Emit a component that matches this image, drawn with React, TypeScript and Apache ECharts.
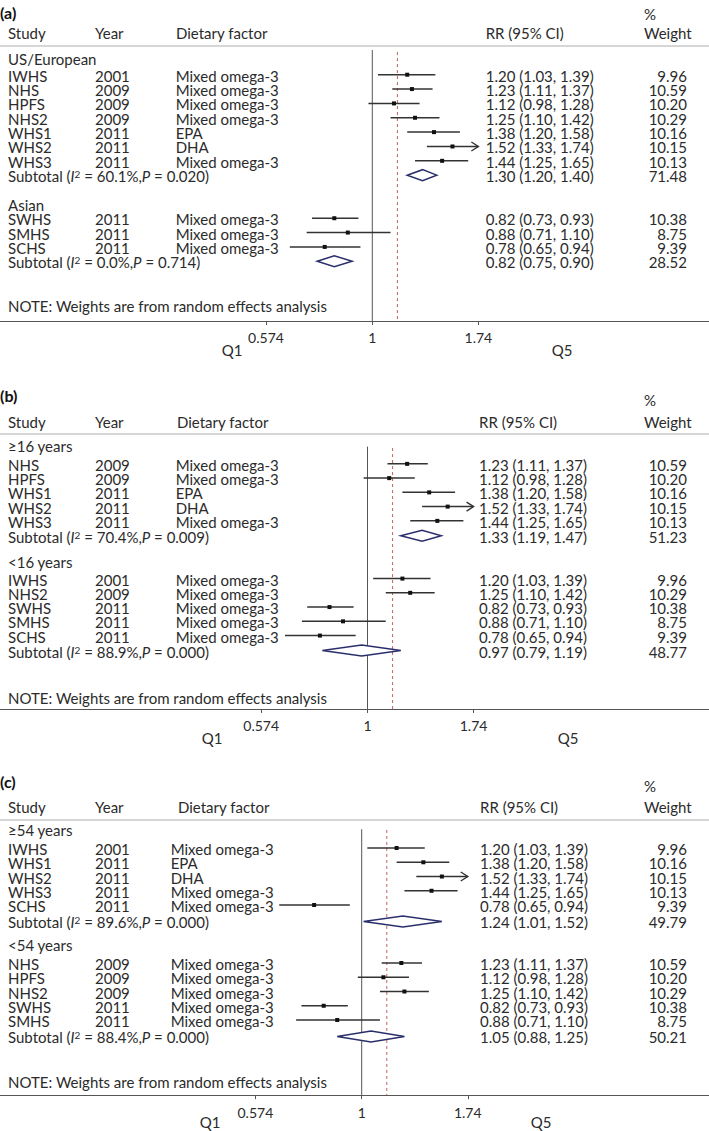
import React, { useEffect, useRef } from "react";
import * as echarts from "echarts";

// ---------------- data ----------------
const studyNames = ["IWHS", "NHS", "HPFS", "NHS2", "WHS1", "WHS2", "WHS3", "SWHS", "SMHS", "SCHS"];
const studyYears = ["2001", "2009", "2009", "2009", "2011", "2011", "2011", "2011", "2011", "2011"];
const dietaryFactors = [
  "Mixed omega-3", "Mixed omega-3", "Mixed omega-3", "Mixed omega-3", "EPA", "DHA",
  "Mixed omega-3", "Mixed omega-3", "Mixed omega-3", "Mixed omega-3",
];
const studyRR = [1.2, 1.23, 1.12, 1.25, 1.38, 1.52, 1.44, 0.82, 0.88, 0.78];
const studyLower = [1.03, 1.11, 0.98, 1.1, 1.2, 1.33, 1.25, 0.73, 0.71, 0.65];
const studyUpper = [1.39, 1.37, 1.28, 1.42, 1.58, 1.74, 1.65, 0.93, 1.1, 0.94];
const studyWeights = [9.96, 10.59, 10.2, 10.29, 10.16, 10.15, 10.13, 10.38, 8.75, 9.39];

const tickValues = [0.574, 1, 1.74];
const tickLabels = ["0.574", "1", "1.74"];
const overallRR = 1.14;

// panel (a)
const groupLabelsA = ["US/European", "Asian"];
const groupMembersA = [["IWHS", "NHS", "HPFS", "NHS2", "WHS1", "WHS2", "WHS3"], ["SWHS", "SMHS", "SCHS"]];
const subtotalRRA = [1.3, 0.82];
const subtotalLowerA = [1.2, 0.75];
const subtotalUpperA = [1.4, 0.9];
const subtotalWeightA = [71.48, 28.52];
const subtotalI2A = ["60.1", "0.0"];
const subtotalPA = ["0.020", "0.714"];

// panel (b)
const groupLabelsB = ["≥16 years", "<16 years"];
const groupMembersB = [["NHS", "HPFS", "WHS1", "WHS2", "WHS3"], ["IWHS", "NHS2", "SWHS", "SMHS", "SCHS"]];
const subtotalRRB = [1.33, 0.97];
const subtotalLowerB = [1.19, 0.79];
const subtotalUpperB = [1.47, 1.19];
const subtotalWeightB = [51.23, 48.77];
const subtotalI2B = ["70.4", "88.9"];
const subtotalPB = ["0.009", "0.000"];

// panel (c)
const groupLabelsC = ["≥54 years", "<54 years"];
const groupMembersC = [["IWHS", "WHS1", "WHS2", "WHS3", "SCHS"], ["NHS", "HPFS", "NHS2", "SWHS", "SMHS"]];
const subtotalRRC = [1.24, 1.05];
const subtotalLowerC = [1.01, 0.88];
const subtotalUpperC = [1.52, 1.25];
const subtotalWeightC = [49.79, 50.21];
const subtotalI2C = ["89.6", "88.4"];
const subtotalPC = ["0.000", "0.000"];

// ---------------- style / layout ----------------
const W = 709;
const H = 1131;
const PX_PER_LN = 191.5;
const FONT = "Lato";
const FS = 15;
const LH = 13;
const TEXT_COLOR = "#2b2b2b";
const TEXT_DY = 1;
const STUDY_X = 8;
const YEAR_X = 95;
const WEIGHT_RIGHT = 687;
const WEIGHT_HDR_X = 644;
const CAP = tickValues[tickValues.length - 1];

const panels = [
  {
    tag: "(a)", groupLabels: groupLabelsA, members: groupMembersA,
    subRR: subtotalRRA, subLo: subtotalLowerA, subHi: subtotalUpperA, subW: subtotalWeightA, subI2: subtotalI2A, subP: subtotalPA,
    L: { headY: 57.5, s: 14.35, firstGaps: [1.2, 1.0], subGap: 1.0, headGap: 2.0, noteGap: 3.08, axisGap: 4.16,
      vTop: -0.52, rTop: -0.38, xOne: 372.3, tagY: 12, pctY: 14, hdrY: 33, sepY: 46,
      factorX: 175.7, factorHdrX: 176, rrX: 485.7, q1X: 232, q5X: 562, qY: 350 },
  },
  {
    tag: "(b)", groupLabels: groupLabelsB, members: groupMembersB,
    subRR: subtotalRRB, subLo: subtotalLowerB, subHi: subtotalUpperB, subW: subtotalWeightB, subI2: subtotalI2B, subP: subtotalPB,
    L: { headY: 445.2, s: 14.25, firstGaps: [1.31, 1.2], subGap: 1.05, headGap: 1.8, noteGap: 3.25, axisGap: 4.1,
      vTop: 0.1, rTop: 0.2, xOne: 367.5, tagY: 395, pctY: 400, hdrY: 421.7, sepY: 434,
      factorX: 175.7, factorHdrX: 177, rrX: 479, q1X: 212, q5X: 568, qY: 738 },
  },
  {
    tag: "(c)", groupLabels: groupLabelsC, members: groupMembersC,
    subRR: subtotalRRC, subLo: subtotalLowerC, subHi: subtotalUpperC, subW: subtotalWeightC, subI2: subtotalI2C, subP: subtotalPC,
    L: { headY: 828.5, s: 14.25, firstGaps: [1.37, 1.32], subGap: 1.15, headGap: 1.6, noteGap: 3.12, axisGap: 4.12,
      vTop: 0.05, rTop: 0.1, xOne: 361.7, tagY: 781.7, pctY: 786, hdrY: 807.3, sepY: 820,
      factorX: 170.7, factorHdrX: 178, rrX: 480, q1X: 210, q5X: 541, qY: 1121.5 },
  },
];

const lnTicks = tickValues.map((v) => Math.log(v));
const fmt2 = (v: number) => v.toFixed(2);
const ciText = (r: number, lo: number, hi: number) => `${fmt2(r)} (${fmt2(lo)}, ${fmt2(hi)})`;

type Row = { kind: string; u: number; i?: number; g?: number; label?: string; uAxis?: number };

function buildRows(p: any) {
  const L = p.L;
  const rows: Row[] = [];
  let u = 0;
  p.groupLabels.forEach((label: string, g: number) => {
    if (g > 0) u += L.headGap;
    rows.push({ kind: "heading", u, label });
    u += L.firstGaps[g];
    p.members[g].forEach((name: string, k: number) => {
      if (k > 0) u += 1;
      rows.push({ kind: "study", u, i: studyNames.indexOf(name) });
    });
    u += L.subGap;
    rows.push({ kind: "subtotal", u, g });
  });
  rows.push({ kind: "note", u: u + L.noteGap });
  const uAxis = u + L.axisGap;
  rows.unshift({ kind: "ref", u: L.vTop, uAxis });
  return { rows, uAxis };
}

function textEl(text: string, x: number, y: number, align = "left", extra: any = {}) {
  return {
    type: "text",
    x,
    y,
    silent: true,
    style: {
      text,
      fill: TEXT_COLOR,
      fontSize: FS,
      fontFamily: FONT,
      lineHeight: LH,
      align,
      verticalAlign: "middle",
      textAlign: align,
      textVerticalAlign: "middle",
      ...extra,
    },
  };
}

function makeRenderItem(p: any, rows: Row[], uAxis: number) {
  const L = p.L;
  return (params: any, api: any) => {
    const row = rows[params.dataIndex];
    const y = api.coord([0, row.u])[1];
    const ty = y + TEXT_DY;
    const children: any[] = [];
    if (row.kind === "ref") {
      const a = api.coord([0, L.vTop]);
      const b = api.coord([0, uAxis]);
      children.push({ type: "line", shape: { x1: a[0], y1: a[1], x2: b[0], y2: b[1] }, style: { stroke: "#555", lineWidth: 1 } });
      const lo = Math.log(overallRR);
      const c = api.coord([lo, L.rTop]);
      const d = api.coord([lo, uAxis]);
      children.push({
        type: "line",
        shape: { x1: c[0], y1: c[1], x2: d[0], y2: d[1] },
        style: { stroke: "#c0605c", lineWidth: 1, lineDash: [3, 3] },
      });
    } else if (row.kind === "heading") {
      children.push(textEl(row.label as string, STUDY_X, ty));
    } else if (row.kind === "note") {
      children.push(textEl("NOTE: Weights are from random effects analysis", STUDY_X, ty));
    } else if (row.kind === "study") {
      const i = row.i as number;
      const lo = api.coord([Math.log(studyLower[i]), row.u]);
      const hiClipped = Math.min(studyUpper[i], CAP);
      const hi = api.coord([Math.log(hiClipped), row.u]);
      const pt = api.coord([Math.log(studyRR[i]), row.u]);
      children.push({ type: "line", shape: { x1: lo[0], y1: y, x2: hi[0], y2: y }, style: { stroke: "#333", lineWidth: 1.5 } });
      if (studyUpper[i] >= CAP) {
        children.push({
          type: "polyline",
          shape: { points: [[hi[0] - 7, y - 4.5], [hi[0], y], [hi[0] - 7, y + 4.5]] },
          style: { stroke: "#333", lineWidth: 1.4, fill: null },
        });
      }
      children.push({ type: "rect", shape: { x: pt[0] - 2, y: y - 2, width: 4, height: 4 }, style: { fill: "#111" } });
      children.push(textEl(studyNames[i], STUDY_X, ty));
      children.push(textEl(studyYears[i], YEAR_X, ty));
      children.push(textEl(dietaryFactors[i], L.factorX, ty));
      children.push(textEl(ciText(studyRR[i], studyLower[i], studyUpper[i]), L.rrX, ty));
      children.push(textEl(fmt2(studyWeights[i]), WEIGHT_RIGHT, ty, "right"));
    } else if (row.kind === "subtotal") {
      const g = row.g as number;
      const lo = api.coord([Math.log(p.subLo[g]), row.u]);
      const hi = api.coord([Math.log(p.subHi[g]), row.u]);
      const pt = api.coord([Math.log(p.subRR[g]), row.u]);
      const hh = 5.5;
      children.push({
        type: "polygon",
        shape: { points: [[lo[0], y], [pt[0], y - hh], [hi[0], y], [pt[0], y + hh]] },
        style: { fill: "#ffffff", stroke: "#2a2f6b", lineWidth: 1.5 },
      });
      children.push(
        textEl(`Subtotal ({it|I}{sup|2} = ${p.subI2[g]}%,{it|P} = ${p.subP[g]})`, STUDY_X, ty, "left", {
          lineHeight: 14,
          rich: {
            it: { fontStyle: "italic", fontSize: FS, fontFamily: FONT, fill: TEXT_COLOR, lineHeight: 14 },
            sup: { fontSize: 10, fontFamily: FONT, fill: TEXT_COLOR, verticalAlign: "top", lineHeight: 6 },
          },
        })
      );
      children.push(textEl(ciText(p.subRR[g], p.subLo[g], p.subHi[g]), L.rrX, ty));
      children.push(textEl(fmt2(p.subW[g]), WEIGHT_RIGHT, ty, "right"));
    }
    return { type: "group", children };
  };
}

function buildOption() {
  const grids: any[] = [];
  const xAxes: any[] = [];
  const yAxes: any[] = [];
  const series: any[] = [];
  const graphics: any[] = [];

  panels.forEach((p, k) => {
    const L = p.L;
    const { rows, uAxis } = buildRows(p);
    grids.push({ left: 0, width: W, top: L.headY + L.vTop * L.s, height: (uAxis - L.vTop) * L.s, containLabel: false });
    xAxes.push({
      gridIndex: k,
      type: "value",
      min: -L.xOne / PX_PER_LN,
      max: (W - L.xOne) / PX_PER_LN,
      axisLine: { show: true, onZero: false, lineStyle: { color: "#555", width: 1 } },
      axisTick: { show: true, customValues: lnTicks, length: 4, lineStyle: { color: "#555" } },
      axisLabel: {
        customValues: lnTicks,
        margin: 10,
        fontSize: 14,
        fontFamily: FONT,
        color: TEXT_COLOR,
        formatter: (v: number) => {
          const j = lnTicks.findIndex((t) => Math.abs(t - v) < 1e-6);
          return j >= 0 ? tickLabels[j] : "";
        },
      },
      splitLine: { show: false },
    });
    yAxes.push({ gridIndex: k, type: "value", inverse: true, min: L.vTop, max: uAxis, show: false });
    series.push({
      type: "custom",
      xAxisIndex: k,
      yAxisIndex: k,
      silent: true,
      clip: false,
      renderItem: makeRenderItem(p, rows, uAxis),
      data: rows.map((r) => {
        let x = 0;
        if (r.kind === "study") x = Math.log(studyRR[r.i as number]);
        if (r.kind === "subtotal") x = Math.log(p.subRR[r.g as number]);
        return [x, r.u];
      }),
    });

    // header texts
    graphics.push(textEl(p.tag, 0, L.tagY, "left", { fontWeight: "bold", fill: "#111", fontSize: 16 }));
    graphics.push(textEl("%", WEIGHT_HDR_X, L.pctY));
    graphics.push(textEl("Study", STUDY_X, L.hdrY));
    graphics.push(textEl("Year", YEAR_X, L.hdrY));
    graphics.push(textEl("Dietary factor", L.factorHdrX, L.hdrY));
    graphics.push(textEl("RR (95% CI)", L.rrX, L.hdrY));
    graphics.push(textEl("Weight", WEIGHT_HDR_X, L.hdrY));
    graphics.push({
      type: "line",
      silent: true,
      shape: { x1: 0, y1: L.sepY, x2: W, y2: L.sepY },
      style: { stroke: "#c9c9c9", lineWidth: 1.5 },
    });
    graphics.push(textEl("Q1", L.q1X, L.qY, "center"));
    graphics.push(textEl("Q5", L.q5X, L.qY, "center"));
  });

  return {
    animation: false,
    backgroundColor: "#ffffff",
    grid: grids,
    xAxis: xAxes,
    yAxis: yAxes,
    series,
    graphic: { elements: graphics },
  };
}

export default function App() {
  const ref = useRef<HTMLDivElement>(null);
  useEffect(() => {
    document.body.style.margin = "0";
    if (!ref.current) return;
    const chart = echarts.init(ref.current, undefined, { renderer: "svg" });
    chart.setOption(buildOption() as any);
    return () => chart.dispose();
  }, []);
  return <div ref={ref} style={{ position: "absolute", left: 0, top: 0, width: W, height: H }} />;
}
